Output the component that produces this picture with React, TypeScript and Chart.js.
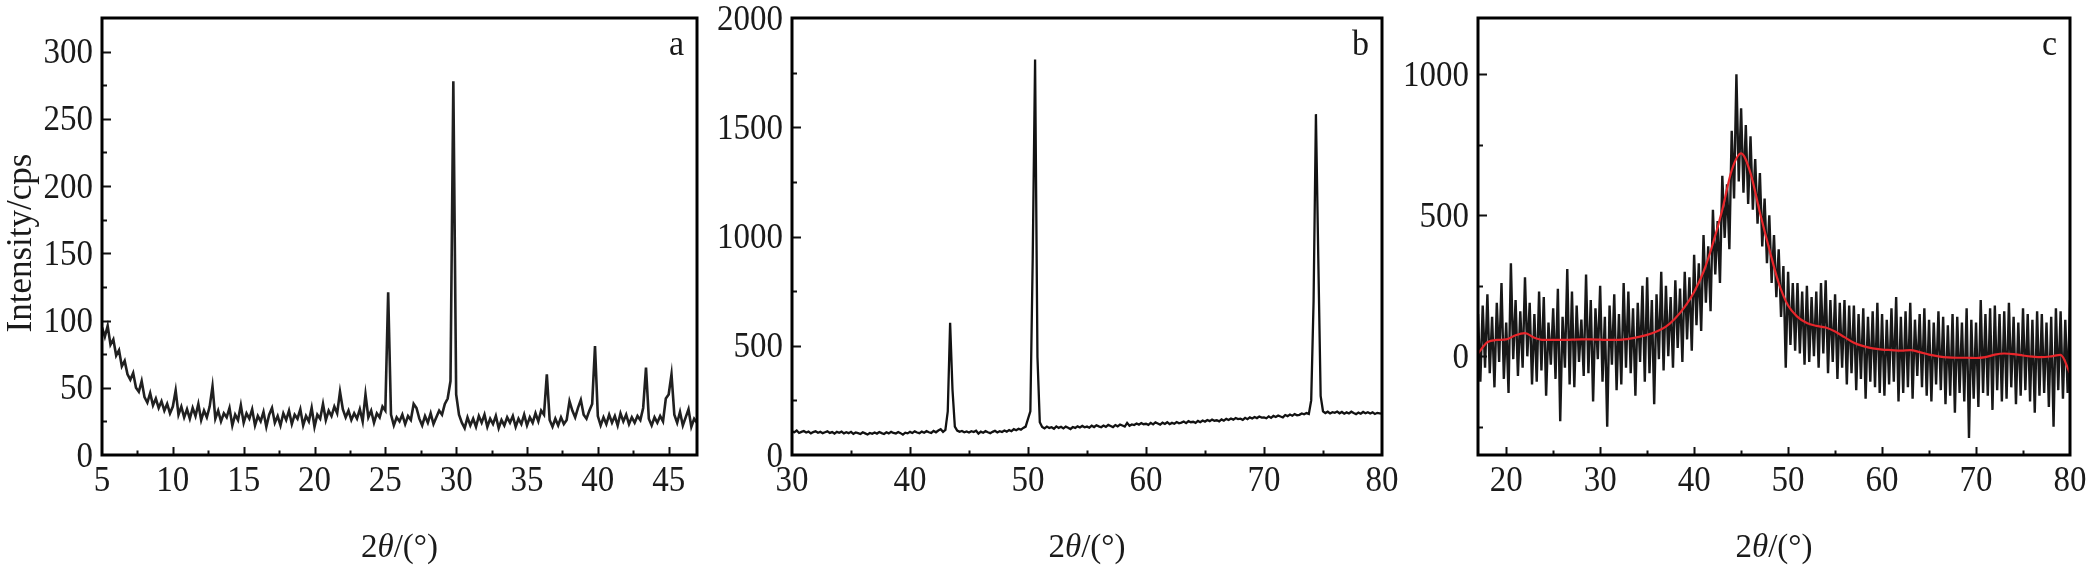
import React, { useEffect, useRef } from 'react';
import { Chart, registerables } from 'chart.js';

Chart.register(...registerables);

// ---------- data ----------
// panel a: 2θ from 5° in 0.2° steps
const A_START = 5;
const A_STEP = 0.2;
const aIntensity = [
  95, 88, 96, 82, 86,
  74, 78, 66, 70, 60,
  56, 61, 50, 47, 55,
  43, 39, 46, 37, 42,
  35, 40, 33, 38, 31,
  36, 48, 30, 36, 28,
  34, 27, 35, 29, 38,
  26, 33, 28, 36, 51,
  27, 33, 25, 31, 28,
  35, 22, 30, 26, 37,
  24, 31, 27, 34, 22,
  29, 25, 32, 21, 30,
  35, 24, 29, 22, 31,
  26, 33, 23, 30, 27,
  34, 22, 29, 25, 35,
  21, 30, 27, 38, 26,
  33, 29, 36, 31, 47,
  34, 28, 33, 26, 31,
  27, 34, 25, 45, 28,
  33, 24, 31, 28, 36,
  33, 121, 30, 22, 28,
  25, 30, 23, 29, 26,
  38, 35, 27, 22, 29,
  24, 31, 23, 28, 33,
  30, 38, 42, 55, 278,
  45, 30, 24, 20, 28,
  22, 27, 21, 29, 24,
  30, 21, 27, 23, 29,
  20, 26, 22, 28, 24,
  29, 21, 27, 23, 30,
  22, 28, 24, 31, 25,
  33, 30, 60, 26, 21,
  27, 22, 28, 23, 26,
  40, 33, 28, 35, 41,
  30, 27, 33, 38, 81,
  29, 22, 28, 23, 30,
  24, 29, 22, 31, 25,
  30, 23, 28, 24, 29,
  26, 35, 65, 27, 22,
  28, 24, 29, 25, 42,
  45, 60, 30, 24, 32,
  22, 28, 34, 21, 27,
  24,
];

// panel b: 2θ from 30° in 0.2° steps
const B_START = 30;
const B_STEP = 0.2;
const bIntensity = [
  108, 104, 112, 101, 106,
  110, 103, 107, 99, 105,
  109, 102, 106, 100, 104,
  108, 101, 105, 98, 106,
  102, 107, 99, 104, 100,
  106, 97, 103, 100, 96,
  104, 99, 94, 101, 97,
  103, 98, 105, 100, 96,
  104, 99, 106, 101, 98,
  105, 100, 93, 102, 99,
  106, 101, 108, 103, 100,
  107, 102, 109, 104, 101,
  110, 104, 112, 118, 106,
  115, 200, 605, 300, 130,
  112, 106, 110, 104, 108,
  103, 109, 105, 111, 98,
  107, 102, 109, 104, 100,
  106, 111, 103, 109, 105,
  112, 107, 114, 109, 118,
  113, 120, 116, 124, 130,
  165, 200, 900, 1810, 450,
  150, 128, 122, 130, 124,
  127, 120, 131, 124, 129,
  122, 130, 125, 119, 128,
  124, 131, 126, 133, 127,
  130, 125, 134, 128, 136,
  131, 127, 135, 129, 138,
  133, 128, 137, 131, 139,
  135, 130, 147, 134, 140,
  137, 144, 139, 146, 141,
  143, 138, 147, 140, 149,
  144, 139, 148, 142, 150,
  141, 147, 143, 151, 145,
  148, 153, 146, 155, 150,
  152, 147, 156, 150, 158,
  153, 160, 155, 162, 157,
  159, 154, 163, 157, 165,
  160, 167, 162, 169, 164,
  166, 161, 170, 164, 172,
  167, 174, 169, 176, 171,
  172, 168, 177, 170, 179,
  174, 181, 176, 172, 183,
  178, 185, 180, 187, 182,
  184, 190, 186, 192, 188,
  250, 700, 1560, 900, 270,
  200, 192, 198, 190, 196,
  193, 199, 191, 197, 189,
  195, 190, 198, 192, 187,
  194, 189, 197, 191, 196,
  190, 195, 188, 193, 191,
  189,
];

// panel c: raw scan from 17° in 0.25° steps
const C_START = 17;
const C_STEP = 0.25;
const cIntensity = [
  150, -90, 180, -40,
  220, -60, 140, -110,
  190, -20, 260, -80,
  120, -130, 330, -10,
  200, -70, 160, -40,
  280, 0, 190, -100,
  150, -90, 230, -50,
  210, -140, 120, -30,
  170, -80, 240, -230,
  140, -40, 310, -100,
  230, -110, 180, -20,
  130, -70, 290, -60,
  200, -160, 170, -10,
  250, -90, 140, -250,
  180, -30, 220, -120,
  150, -100, 260, -40,
  230, -60, 170, -140,
  190, -20, 250, -90,
  280, -60, 200, -170,
  220, -10, 300, -50,
  250, 0, 210, -40,
  270, 30, 240, -20,
  300, 60, 280, 20,
  360, 110, 330, 90,
  430, 190, 390, 160,
  520, 290, 480, 260,
  640, 420, 610, 380,
  800, 560, 1000, 620,
  880, 580, 820, 540,
  780, 520, 700, 470,
  650, 390, 560, 330,
  500, 260, 430, 210,
  380, 140, 320, -40,
  300, 40, 260, 20,
  260, 10, 230, -30,
  250, -20, 210, 0,
  230, -40, 260, 10,
  270, -60, 200, -20,
  220, -80, 190, -40,
  200, -100, 180, -60,
  180, -120, 150, -80,
  170, -150, 140, -90,
  160, -110, 190, -130,
  150, -140, 130, -100,
  170, -90, 210, -160,
  140, -130, 160, -110,
  190, -150, 130, -70,
  150, -110, 170, -140,
  130, -160, 120, -100,
  160, -120, 140, -170,
  110, -140, 150, -200,
  140, -130, 120, -160,
  170, -290, 130, -150,
  120, -180, 200, -130,
  150, -140, 170, -190,
  180, -120, 150, -160,
  160, -150, 190, -110,
  140, -170, 120, -140,
  170, -120, 150, -160,
  130, -200, 160, -140,
  150, -130, 120, -180,
  140, -250, 170, -120,
  160, -150, 130, -130,
  200,
];

// panel c: smoothed fit (red), 1° steps from 17°
const C_FIT_START = 17;
const C_FIT_STEP = 1;
const cFit = [
  10, 50, 58, 60, 75, 82, 66, 58, 58, 58,
  59, 60, 60, 59, 58, 58, 62, 68, 76, 88,
  105, 135, 175, 228, 300, 400, 520, 660, 720, 650,
  510, 380, 260, 180, 140, 118, 108, 102, 88, 68,
  48, 36, 28, 24, 22, 20, 22, 15, 6, 0,
  -4, -5, -5, -6, -3, 6, 10, 8, 3, -1,
  -3, 0, 5, -60,
];

// tick labels
const aXTicks = [5, 10, 15, 20, 25, 30, 35, 40, 45];
const aYTicks = [0, 50, 100, 150, 200, 250, 300];
const bXTicks = [30, 40, 50, 60, 70, 80];
const bYTicks = [0, 500, 1000, 1500, 2000];
const cXTicks = [20, 30, 40, 50, 60, 70, 80];
const cYTicks = [0, 500, 1000];

const panelLetters = ['a', 'b', 'c'];
const yAxisTitle = 'Intensity/cps';
const xAxisTitleParts: [string, string][] = [['2', 'normal'], ['θ', 'italic'], ['/(°)', 'normal']];

// ---------- drawing helpers ----------
const FONT = '"Liberation Serif", "Times New Roman", serif';
const V_STRETCH = 1.06;

function toPoints(start: number, step: number, ys: number[]) {
  return ys.map((y, i) => ({ x: +(start + i * step).toFixed(3), y }));
}

function isMultiple(v: number, m: number) {
  const r = v / m;
  return Math.abs(r - Math.round(r)) < 1e-6;
}

const framePlugin = {
  id: 'frame',
  afterDraw(chart: any, _args: any, opts: any) {
    const { ctx, chartArea } = chart;
    const { left, right, top, bottom } = chartArea;
    const xs = chart.scales.x;
    const ys = chart.scales.y;
    ctx.save();

    // inward ticks on bottom and left axes
    ctx.strokeStyle = '#111';
    ctx.lineWidth = 2;
    ctx.beginPath();
    const kx0 = Math.ceil(xs.min / opts.xMinor - 1e-9);
    const kx1 = Math.floor(xs.max / opts.xMinor + 1e-9);
    for (let k = kx0; k <= kx1; k++) {
      const v = k * opts.xMinor;
      if (v <= xs.min + 1e-9 || v >= xs.max - 1e-9) continue;
      const px = Math.round(xs.getPixelForValue(v)) + 0.5;
      const len = isMultiple(v, opts.xMajor) ? 8 : 4.5;
      ctx.moveTo(px, bottom);
      ctx.lineTo(px, bottom - len);
    }
    const ky0 = Math.ceil(ys.min / opts.yMinor - 1e-9);
    const ky1 = Math.floor(ys.max / opts.yMinor + 1e-9);
    for (let k = ky0; k <= ky1; k++) {
      const v = k * opts.yMinor;
      if (v <= ys.min + 1e-9 || v >= ys.max - 1e-9) continue;
      const py = Math.round(ys.getPixelForValue(v)) + 0.5;
      const len = isMultiple(v, opts.yMajor) ? 9 : 5;
      ctx.moveTo(left, py);
      ctx.lineTo(left + len, py);
    }
    ctx.stroke();

    // frame
    ctx.lineWidth = 3;
    ctx.strokeStyle = '#000';
    ctx.strokeRect(left, top, right - left, bottom - top);

    // tick labels
    ctx.fillStyle = '#1a1a1a';
    ctx.font = `33px ${FONT}`;
    ctx.textAlign = 'right';
    ctx.textBaseline = 'alphabetic';
    ys.ticks.forEach((t: any) => {
      const py = ys.getPixelForValue(t.value);
      ctx.save();
      ctx.translate(left - 9, py + 11.5);
      ctx.scale(1, V_STRETCH);
      ctx.fillText(String(t.value), 0, 0);
      ctx.restore();
    });
    ctx.textAlign = 'center';
    xs.ticks.forEach((t: any) => {
      const px = xs.getPixelForValue(t.value);
      ctx.save();
      ctx.translate(px, bottom + 36);
      ctx.scale(1, V_STRETCH);
      ctx.fillText(String(t.value), 0, 0);
      ctx.restore();
    });

    // panel letter
    ctx.font = `34px ${FONT}`;
    ctx.textAlign = 'right';
    ctx.save();
    ctx.translate(right - 13, top + 37);
    ctx.scale(1, V_STRETCH);
    ctx.fillText(opts.letter, 0, 0);
    ctx.restore();

    // x title with italic theta
    const size = 33;
    let total = 0;
    const widths = xAxisTitleParts.map(([txt, st]) => {
      ctx.font = `${st} ${size}px ${FONT}`;
      const w = ctx.measureText(txt).width;
      total += w;
      return w;
    });
    let cx = (left + right) / 2 - total / 2;
    ctx.textAlign = 'left';
    xAxisTitleParts.forEach(([txt, st], i) => {
      ctx.font = `${st} ${size}px ${FONT}`;
      ctx.fillText(txt, cx, 557);
      cx += widths[i];
    });

    // y title
    if (opts.yTitle) {
      ctx.font = `35px ${FONT}`;
      ctx.textAlign = 'center';
      ctx.save();
      ctx.translate(31, 243);
      ctx.rotate(-Math.PI / 2);
      ctx.fillText(opts.yTitle, 0, 0);
      ctx.restore();
    }
    ctx.restore();
  },
};

type PanelSpec = {
  canvasLeft: number;
  canvasWidth: number;
  yAxisWidth: number;
  padRight: number;
  xMin: number; xMax: number; xMajor: number; xMinor: number;
  yMin: number; yMax: number; yMajor: number; yMinor: number;
  xTicks: number[]; yTicks: number[];
  letter: string;
  yTitle?: string;
  datasets: any[];
};

function buildConfig(p: PanelSpec): any {
  return {
    type: 'line',
    data: { datasets: p.datasets },
    options: {
      responsive: false,
      animation: false,
      layout: { padding: { left: 0, right: p.padRight, top: 18, bottom: 0 } },
      plugins: {
        legend: { display: false },
        tooltip: { enabled: false },
        frame: {
          xMajor: p.xMajor, xMinor: p.xMinor, yMajor: p.yMajor, yMinor: p.yMinor,
          letter: p.letter, yTitle: p.yTitle,
        },
      },
      scales: {
        x: {
          type: 'linear', min: p.xMin, max: p.xMax,
          grid: { display: false, drawTicks: false },
          border: { display: false },
          ticks: { display: false },
          afterBuildTicks: (s: any) => { s.ticks = p.xTicks.map((v) => ({ value: v })); },
          afterFit: (s: any) => { s.height = 110; },
        },
        y: {
          type: 'linear', min: p.yMin, max: p.yMax,
          grid: { display: false, drawTicks: false },
          border: { display: false },
          ticks: { display: false },
          afterBuildTicks: (s: any) => { s.ticks = p.yTicks.map((v) => ({ value: v })); },
          afterFit: (s: any) => { s.width = p.yAxisWidth; },
        },
      },
    },
    plugins: [framePlugin],
  };
}

const lineBase = { pointRadius: 0, fill: false, tension: 0 };

const panels: PanelSpec[] = [
  {
    canvasLeft: 0, canvasWidth: 710, yAxisWidth: 102, padRight: 13,
    xMin: 5, xMax: 47, xMajor: 5, xMinor: 2.5,
    yMin: 0, yMax: 325, yMajor: 50, yMinor: 25,
    xTicks: aXTicks, yTicks: aYTicks,
    letter: panelLetters[0], yTitle: yAxisTitle,
    datasets: [{ ...lineBase, data: toPoints(A_START, A_STEP, aIntensity), borderColor: 'rgba(20,20,20,0.95)', borderWidth: 2.6 }],
  },
  {
    canvasLeft: 700, canvasWidth: 700, yAxisWidth: 92, padRight: 18,
    xMin: 30, xMax: 80, xMajor: 10, xMinor: 5,
    yMin: 0, yMax: 2000, yMajor: 500, yMinor: 250,
    xTicks: bXTicks, yTicks: bYTicks,
    letter: panelLetters[1],
    datasets: [{ ...lineBase, data: toPoints(B_START, B_STEP, bIntensity), borderColor: '#121212', borderWidth: 2.3 }],
  },
  {
    canvasLeft: 1380, canvasWidth: 707, yAxisWidth: 98, padRight: 17,
    xMin: 17, xMax: 80, xMajor: 10, xMinor: 5,
    yMin: -350, yMax: 1200, yMajor: 500, yMinor: 250,
    xTicks: cXTicks, yTicks: cYTicks,
    letter: panelLetters[2],
    datasets: [
      // first dataset is drawn on top in Chart.js
      { ...lineBase, data: toPoints(C_FIT_START, C_FIT_STEP, cFit), borderColor: '#e8262b', borderWidth: 2.2, tension: 0.4, cubicInterpolationMode: 'monotone' },
      { ...lineBase, data: toPoints(C_START, C_STEP, cIntensity), borderColor: 'rgba(12,12,12,0.95)', borderWidth: 2.4 },
    ],
  },
];

function Panel({ spec }: { spec: PanelSpec }) {
  const ref = useRef<HTMLCanvasElement>(null);
  useEffect(() => {
    if (!ref.current) return;
    const chart = new Chart(ref.current, buildConfig(spec));
    return () => chart.destroy();
  }, [spec]);
  return (
    <canvas
      ref={ref}
      width={spec.canvasWidth}
      height={565}
      style={{ position: 'absolute', left: spec.canvasLeft, top: 0, width: spec.canvasWidth, height: 565 }}
    />
  );
}

export default function App() {
  return (
    <div style={{ position: 'fixed', left: 0, top: 0, width: 2087, height: 565, background: '#fff', overflow: 'hidden' }}>
      {panels.map((p, i) => <Panel key={i} spec={p} />)}
    </div>
  );
}
